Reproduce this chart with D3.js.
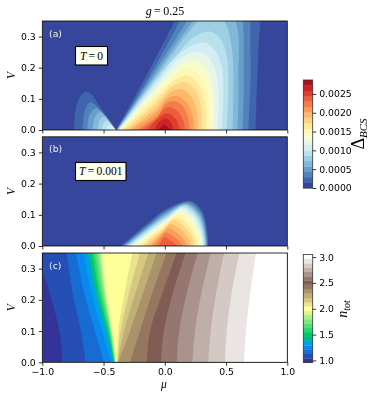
<!DOCTYPE html>
<html>
<head>
<meta charset="utf-8">
<script src="https://cdn.jsdelivr.net/npm/d3@7"></script>
<style>
html, body { margin: 0; padding: 0; background: #fff; }
</style>
</head>
<body>
<div id="chart"></div>
<script>
// tick labels
const muTicks = [-1, -0.5, 0, 0.5, 1];
const vTicks = [0, 0.1, 0.2, 0.3];
const deltaTicks = [0, 0.0005, 0.001, 0.0015, 0.002, 0.0025];
const nTicks = [1, 1.5, 2, 2.5, 3];

// filled contour levels
const deltaLevels = [0, 0.00014, 0.00029, 0.00043, 0.00057, 0.00072, 0.00086, 0.001, 0.00115, 0.00129, 0.00144,
    0.00158, 0.00172, 0.00187, 0.00201, 0.00215, 0.0023, 0.00244, 0.00258, 0.00273, 0.00287];
const nLevels = [0.96, 1.04, 1.13, 1.21, 1.29, 1.38, 1.46, 1.55, 1.63, 1.71, 1.8, 1.88, 1.96, 2.05, 2.13, 2.21,
    2.3, 2.38, 2.47, 2.55, 2.63, 2.72, 2.8, 2.88, 2.97, 3.05];

// panel (a): contour lines [mu, V], one per level, starting at level 1
const aMainLobe = [
    [[-.398, 0], [-.148, .177], [.08, .35], [.15, .41], [.82, .41], [.783, .35], [.755, .17], [.742, 0]],
    [[-.396, 0], [-.12, .177], [.124, .35], [.2, .41], [.72, .41], [.70, .35], [.70, .17], [.682, 0]],
    [[-.393, 0], [-.10, .177], [.182, .35], [.25, .40], [.60, .42], [.636, .35], [.645, .17], [.636, 0]],
    [[-.39, 0], [-.08, .177], [.23, .35], [.38, .42], [.573, .35], [.60, .17], [.595, 0]],
    [[-.388, 0], [-.06, .177], [.27, .35], [.38, .385], [.486, .35], [.545, .27], [.56, .17], [.554, 0]],
    [[-.385, 0], [-.045, .177], [.11, .247], [.24, .30], [.369, .316], [.46, .29], [.505, .24], [.518, .17], [.515, .08], [.505, 0]],
    [[-.38, 0], [-.025, .177], [.07, .225], [.20, .268], [.328, .281], [.41, .255], [.46, .21], [.478, .15], [.475, .07], [.464, 0]],
    [[-.375, 0], [.002, .177], [.10, .222], [.20, .245], [.30, .25], [.385, .22], [.425, .17], [.44, .10], [.429, 0]],
    [[-.37, 0], [.038, .177], [.15, .215], [.26, .223], [.34, .195], [.385, .14], [.40, .07], [.391, 0]],
    [[-.36, 0], [.085, .177], [.15, .193], [.21, .197], [.30, .17], [.35, .12], [.37, .06], [.364, 0]],
    [[-.345, 0], [-.07, .10], [.08, .16], [.18, .174], [.27, .15], [.32, .10], [.34, .05], [.336, 0]],
    [[-.325, 0], [-.085, .08], [.06, .14], [.165, .153], [.245, .13], [.29, .085], [.305, .04], [.30, 0]],
    [[-.30, 0], [-.07, .07], [.04, .12], [.137, .132], [.21, .11], [.255, .07], [.27, .03], [.265, 0]],
    [[-.27, 0], [-.06, .06], [.02, .10], [.097, .11], [.175, .09], [.22, .055], [.235, .025], [.233, 0]],
    [[-.23, 0], [-.05, .05], [.01, .085], [.08, .093], [.15, .075], [.19, .04], [.2, 0]],
    [[-.19, 0], [-.06, .04], [-.01, .067], [.04, .073], [.11, .058], [.155, .025], [.165, 0]],
    [[-.14, 0], [-.06, .035], [.02, .054], [.09, .035], [.124, 0]],
    [[-.09, 0], [-.04, .028], [.01, .037], [.05, .025], [.07, 0]],
    [[-.05, 0], [-.004, .018], [.043, 0]]
];
const aLeftLobe = [
    [[-.741, 0], [-.73, .06], [-.70, .10], [-.65, .123], [-.60, .115], [-.54, .08], [-.47, .04], [-.40, 0]],
    [[-.67, 0], [-.665, .04], [-.645, .07], [-.611, .089], [-.565, .08], [-.51, .056], [-.40, 0]],
    [[-.633, 0], [-.625, .035], [-.60, .058], [-.56, .07], [-.52, .06], [-.47, .036], [-.40, 0]],
    [[-.589, 0], [-.58, .03], [-.56, .048], [-.529, .057], [-.49, .047], [-.45, .028], [-.40, 0]],
    [[-.551, 0], [-.54, .025], [-.525, .037], [-.502, .043], [-.47, .034], [-.44, .02], [-.40, 0]],
    [[-.516, 0], [-.505, .018], [-.475, .03], [-.45, .022], [-.425, .012], [-.40, 0]],
    [[-.48, 0], [-.472, .011], [-.45, .018], [-.43, .012], [-.40, 0]],
    [[-.45, 0], [-.43, .01], [-.415, .005], [-.40, 0]],
    [[-.425, 0], [-.415, .004], [-.40, 0]]
];

// panel (b): same levels, much smaller lobe
const bLobe = [
    [[-.358, 0], [-.107, .084], [.0, .116], [.206, .145], [.30, .116], [.334, .079], [.35, .035], [.355, 0]],
    [[-.347, 0], [-.10, .08], [.005, .112], [.198, .1415], [.292, .112], [.326, .076], [.344, .034], [.35, 0]],
    [[-.336, 0], [-.095, .077], [.01, .108], [.187, .138], [.285, .108], [.32, .073], [.338, .032], [.345, 0]],
    [[-.325, 0], [-.09, .074], [.015, .104], [.178, .135], [.278, .104], [.314, .07], [.332, .03], [.339, 0]],
    [[-.314, 0], [-.085, .071], [.02, .10], [.17, .132], [.27, .10], [.308, .067], [.326, .03], [.334, 0]],
    [[-.303, 0], [-.08, .068], [.025, .098], [.159, .1285], [.262, .098], [.30, .064], [.32, .03], [.328, 0]],
    [[-.29, 0], [-.075, .065], [.03, .094], [.151, .124], [.252, .094], [.29, .06], [.312, .028], [.32, 0]],
    [[-.273, 0], [-.07, .062], [.03, .09], [.138, .119], [.24, .09], [.28, .056], [.304, .026], [.312, 0]],
    [[-.254, 0], [-.065, .058], [.03, .084], [.124, .1125], [.225, .084], [.27, .052], [.293, .024], [.301, 0]],
    [[-.232, 0], [-.06, .052], [.025, .078], [.11, .104], [.207, .078], [.25, .048], [.277, .022], [.285, 0]],
    [[-.208, 0], [-.06, .045], [.015, .07], [.091, .093], [.187, .068], [.232, .04], [.258, .018], [.266, 0]],
    [[-.18, 0], [-.055, .04], [.01, .062], [.072, .083], [.165, .06], [.21, .035], [.234, .016], [.241, 0]],
    [[-.148, 0], [-.05, .034], [.0, .053], [.05, .0705], [.14, .05], [.185, .028], [.207, .012], [.214, 0]],
    [[-.118, 0], [-.05, .027], [-.01, .044], [.029, .0565], [.105, .04], [.155, .02], [.184, 0]],
    [[-.088, 0], [-.045, .02], [-.015, .034], [.01, .043], [.075, .03], [.125, .012], [.149, 0]],
    [[-.053, 0], [-.03, .014], [-.004, .028], [.05, .017], [.105, 0]]
];

// panel (c): mu position of each level boundary at these V rows
const cRows = [0, 0.1, 0.2, 0.35];
const cBoundaries = [
    [-.834, -.861, -.924, -1.046],
    [-.646, -.684, -.741, -.801],
    [-.497, -.570, -.644, -.725],
    [-.434, -.513, -.584, -.665],
    [-.420, -.480, -.551, -.630],
    [-.415, -.469, -.537, -.611],
    [-.412, -.461, -.524, -.592],
    [-.410, -.453, -.510, -.573],
    [-.407, -.445, -.497, -.554],
    [-.404, -.439, -.486, -.537],
    [-.401, -.434, -.478, -.524],
    [-.396, -.429, -.469, -.510],
    [-.390, -.380, -.339, -.265],
    [-.388, -.361, -.306, -.203],
    [-.385, -.333, -.257, -.135],
    [-.380, -.284, -.197, -.067],
    [-.284, -.203, -.121, .015],
    [-.148, -.121, -.039, .097],
    [-.031, -.007, .050, .170],
    [.097, .118, .167, .268],
    [.224, .246, .287, .374],
    [.355, .374, .410, .483],
    [.491, .505, .537, .608],
    [.646, .663, .690, .744]
];

// colormaps
const rdYlBu = d3.scaleLinear()
    .domain(d3.range(11).map(d => d / 10))
    .range(["#313695", "#4575b4", "#74add1", "#abd9e9", "#e0f3f8", "#ffffbf", "#fee090", "#fdae61", "#f46d43", "#d73027", "#a50026"]);
const terrain = d3.scaleLinear()
    .domain([0, 0.15, 0.25, 0.5, 0.75, 1])
    .range(["#333399", "#0099ff", "#00cc66", "#ffff99", "#805c54", "#ffffff"]);

// the lowest delta band sits a little above the start of the map
const deltaColor = i => rdYlBu(0.025 + 0.95 * i / (deltaLevels.length - 2));
const nColor = i => terrain(i / (nLevels.length - 2));

const svg = d3.select("#chart")
    .append("svg")
    .attr("width", 374)
    .attr("height", 399)
    .style("display", "block")
    .style("filter", "blur(0.35px)");

const sans = "'DejaVu Sans'";
const serif = "'Liberation Serif'";

const x = d3.scaleLinear().domain([-1, 1]).range([42.3, 287.3]);

const panels = [
    { id: "a", top: 21, bottom: 130 },
    { id: "b", top: 136.8, bottom: 246 },
    { id: "c", top: 253, bottom: 362.3 }
];
panels.forEach(p => {
    p.y = d3.scaleLinear().domain([0, 0.35]).range([p.bottom, p.top]);
    p.g = svg.append("g");
    p.g.append("clipPath").attr("id", "clip-" + p.id)
        .append("rect")
        .attr("x", x(-1)).attr("y", p.top)
        .attr("width", x(1) - x(-1)).attr("height", p.bottom - p.top);
    p.plot = p.g.append("g").attr("clip-path", "url(#clip-" + p.id + ")");
});

function drawLobes(p, lobe) {
    const line = d3.line()
        .x(d => x(d[0]))
        .y(d => p.y(d[1]))
        .curve(d3.curveCatmullRom.alpha(0.5));
    p.plot.append("g").selectAll("path")
        .data(lobe)
        .enter()
        .append("path")
        .attr("d", d => line(d) + "Z")
        .attr("fill", (d, i) => deltaColor(i + 1));
}

// background band, then nested contours on top of it
[panels[0], panels[1]].forEach(p => {
    p.plot.append("rect")
        .attr("x", x(-1)).attr("y", p.top)
        .attr("width", x(1) - x(-1)).attr("height", p.bottom - p.top)
        .attr("fill", deltaColor(0));
});
drawLobes(panels[0], aLeftLobe);
drawLobes(panels[0], aMainLobe);
drawLobes(panels[1], bLobe);

// panel c: each band runs from its boundary to the right edge
const pc = panels[2];
pc.plot.append("rect")
    .attr("x", x(-1)).attr("y", pc.top)
    .attr("width", x(1) - x(-1)).attr("height", pc.bottom - pc.top)
    .attr("fill", nColor(0));
const bandArea = d3.area()
    .y((d, i) => pc.y(cRows[i]))
    .x0(d => x(d))
    .x1(x(1))
    .curve(d3.curveMonotoneY);
pc.plot.append("g").selectAll("path")
    .data(cBoundaries)
    .enter()
    .append("path")
    .attr("d", d => bandArea(d))
    .attr("fill", (d, i) => nColor(i + 1));

// axes and frame
function styleAxis(g) {
    g.select(".domain").remove();
    g.selectAll("line").attr("stroke", "#000").attr("stroke-width", 0.8);
    g.selectAll("text").attr("font-family", sans).attr("font-size", 9.3).attr("fill", "#000");
}
panels.forEach((p, i) => {
    const bottomAxis = d3.axisBottom(x).tickValues(muTicks).tickSize(3.5).tickPadding(3)
        .tickFormat(i === 2 ? d3.format(".1f") : "");
    p.g.append("g").attr("transform", "translate(0," + p.bottom + ")").call(bottomAxis).call(styleAxis);
    const leftAxis = d3.axisLeft(p.y).tickValues(vTicks).tickSize(3.5).tickPadding(3).tickFormat(d3.format(".1f"));
    p.g.append("g").attr("transform", "translate(" + x(-1) + ",0)").call(leftAxis).call(styleAxis);
    p.g.append("rect")
        .attr("x", x(-1)).attr("y", p.top)
        .attr("width", x(1) - x(-1)).attr("height", p.bottom - p.top)
        .attr("fill", "none").attr("stroke", "#000").attr("stroke-width", 0.8);

    p.g.append("text")
        .attr("x", 49).attr("y", p.top + 15.5)
        .attr("font-family", sans).attr("font-size", 9.3)
        .attr("fill", "#eee")
        .text("(" + p.id + ")");

    p.g.append("text")
        .attr("transform", "translate(14.5," + (p.top + p.bottom) / 2 + ") rotate(-90)")
        .attr("text-anchor", "middle")
        .attr("font-family", serif).attr("font-style", "italic").attr("font-size", 11.5)
        .text("V");
});

// title and mu label
const title = svg.append("text")
    .attr("x", 165).attr("y", 15)
    .attr("text-anchor", "middle")
    .attr("font-family", serif).attr("font-size", 12);
title.append("tspan").attr("font-style", "italic").text("g");
title.append("tspan").text("\u2009=\u20090.25");

svg.append("text")
    .attr("x", 164).attr("y", 388)
    .attr("text-anchor", "middle")
    .attr("font-family", serif).attr("font-style", "italic").attr("font-size", 11.5)
    .text("\u03bc");

// T annotation boxes
function tempBox(p, label, left, top, w, h) {
    p.g.append("rect")
        .attr("x", left).attr("y", top).attr("width", w).attr("height", h)
        .attr("fill", "#fffff0").attr("stroke", "#000").attr("stroke-width", 1.1);
    const t = p.g.append("text")
        .attr("x", left + w / 2).attr("y", top + h / 2 + 3.8)
        .attr("text-anchor", "middle")
        .attr("font-family", serif).attr("font-size", 11.5);
    t.append("tspan").attr("font-style", "italic").text("T");
    t.append("tspan").text("\u2009=\u2009" + label);
}
tempBox(panels[0], "0", 75.5, 46.5, 32, 18.5);
tempBox(panels[1], "0.001", 75.5, 162.5, 50.5, 18);

// colorbars
function colorbar(levels, color, ticks, fmt, top, bottom) {
    const g = svg.append("g");
    const y = d3.scaleLinear().domain([levels[0], levels[levels.length - 1]]).range([bottom, top]);
    g.selectAll("rect")
        .data(d3.pairs(levels))
        .enter()
        .append("rect")
        .attr("x", 303.3)
        .attr("width", 9.4)
        .attr("y", d => y(d[1]))
        .attr("height", d => y(d[0]) - y(d[1]) + 0.3)
        .attr("fill", (d, i) => color(i));
    g.append("rect")
        .attr("x", 303.3).attr("y", top).attr("width", 9.4).attr("height", bottom - top)
        .attr("fill", "none").attr("stroke", "#333").attr("stroke-width", 0.8);
    const axis = d3.axisRight(y).tickValues(ticks).tickSize(3.5).tickPadding(3).tickFormat(d3.format(fmt));
    g.append("g").attr("transform", "translate(312.7,0)").call(axis).call(styleAxis);
}
colorbar(deltaLevels, deltaColor, deltaTicks, ".4f", 80, 188);
colorbar(nLevels, nColor, nTicks, ".1f", 254.5, 362.5);

const deltaLabel = svg.append("text")
    .attr("transform", "translate(364,134) rotate(-90)")
    .attr("text-anchor", "middle")
    .attr("font-family", serif).attr("font-size", 18);
deltaLabel.append("tspan").text("\u0394");
deltaLabel.append("tspan").attr("font-style", "italic").attr("font-size", 11).attr("dy", 3).text("BCS");

const nLabel = svg.append("text")
    .attr("transform", "translate(347,309) rotate(-90)")
    .attr("text-anchor", "middle")
    .attr("font-family", serif).attr("font-style", "italic").attr("font-size", 14);
nLabel.append("tspan").text("n");
nLabel.append("tspan").attr("font-size", 10).attr("dy", 2.5).text("tot");
</script>
</body>
</html>
